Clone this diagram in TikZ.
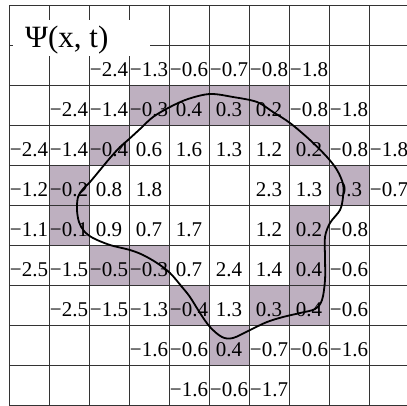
\documentclass[tikz,border=0pt]{standalone}
\usepackage{fontspec}
\setmainfont{Liberation Serif}
\definecolor{cellshade}{RGB}{190,176,192}
\begin{document}
\begin{tikzpicture}[x=1pt,y=-1pt,
  gridline/.style={draw=black!80,line width=0.8pt},
  shadecell/.style={fill=cellshade},
  val/.style={anchor=base,inner sep=0pt,font=\fontsize{21}{24}\selectfont},
  titlebox/.style={fill=white,draw=none},
  titletext/.style={anchor=base west,inner sep=0pt,font=\fontsize{31}{34}\selectfont},
  contour/.style={draw=black,line width=1.8pt}]
\useasboundingbox (0,0) rectangle (407,405);
\clip (0,0) rectangle (407,405);
% shaded cells
\foreach \r/\c in {2/3,2/4,2/5,2/6,3/2,3/7,4/1,4/8,5/1,5/7,6/2,6/3,6/7,7/4,7/6,7/7,8/5}
  \fill[shadecell] (9+40*\c,5+40*\r) rectangle ++(40,40);
% grid
\foreach \k in {0,...,10}{
  \draw[gridline] (9+40*\k,5) -- (9+40*\k,410);
  \draw[gridline] (9,5+40*\k) -- (412,5+40*\k);
}
% values
\foreach \r/\c/\v in {
  1/2/−2.4,1/3/−1.3,1/4/−0.6,1/5/−0.7,1/6/−0.8,1/7/−1.8,
  2/1/−2.4,2/2/−1.4,2/3/−0.3,2/4/0.4,2/5/0.3,2/6/0.2,2/7/−0.8,2/8/−1.8,
  3/0/−2.4,3/1/−1.4,3/2/−0.4,3/3/0.6,3/4/1.6,3/5/1.3,3/6/1.2,3/7/0.2,3/8/−0.8,3/9/−1.8,
  4/0/−1.2,4/1/−0.2,4/2/0.8,4/3/1.8,4/6/2.3,4/7/1.3,4/8/0.3,4/9/−0.7,
  5/0/−1.1,5/1/−0.1,5/2/0.9,5/3/0.7,5/4/1.7,5/6/1.2,5/7/0.2,5/8/−0.8,
  6/0/−2.5,6/1/−1.5,6/2/−0.5,6/3/−0.3,6/4/0.7,6/5/2.4,6/6/1.4,6/7/0.4,6/8/−0.6,
  7/1/−2.5,7/2/−1.5,7/3/−1.3,7/4/−0.4,7/5/1.3,7/6/0.3,7/7/0.4,7/8/−0.6,
  8/3/−1.6,8/4/−0.6,8/5/0.4,8/6/−0.7,8/7/−0.6,8/8/−1.6,
  9/4/−1.6,9/5/−0.6,9/6/−1.7}
  \node[val] (n\r\c) at (29+40*\c,36+40*\r) {\v};
% title
\fill[titlebox] (13,20) rectangle (150,56);
\node[titletext] (title) at (25,47) {Ψ(x, t)};
% contour
\draw[contour] plot[smooth cycle,tension=0.55] coordinates {
  (210,94) (233,97) (257,102) (273,112) (290,123) (310,140) (327,157) (337,170)
  (343,184) (343,197) (340,210) (330,223) (325,237) (325,257) (325,280) (322,300)
  (315,309) (300,313) (283,317) (267,322) (250,330) (233,338) (222,337) (210,327)
  (200,313) (190,297) (182,287) (170,273) (157,263) (143,255) (130,250) (110,245)
  (93,238) (84,231) (79,222) (77,210) (78,197) (83,189) (90,182) (100,170)
  (110,158) (120,147) (128,140) (140,129) (153,117) (170,107) (188,99)};
\end{tikzpicture}
\end{document}
